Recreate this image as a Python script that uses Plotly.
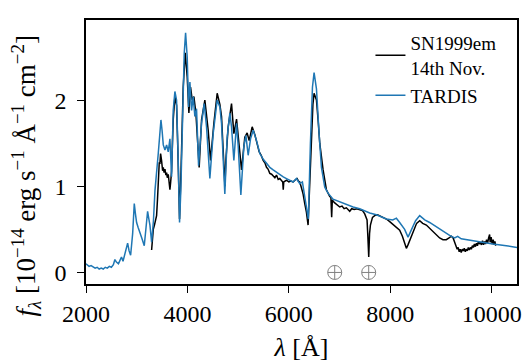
import plotly.graph_objects as go

# TARDIS model spectrum
tardis_wl = [2000, 2030, 2060, 2100, 2140, 2180, 2220, 2260, 2300, 2340, 2380, 2420, 2460, 2500,
             2540, 2570, 2600, 2640, 2670, 2700, 2730, 2768, 2800, 2821, 2850, 2880, 2920, 2952,
             2975, 2998, 3030, 3064, 3100, 3149, 3180, 3215, 3240, 3261, 3294, 3330, 3360, 3392,
             3425, 3455, 3478, 3500, 3524, 3557, 3590, 3622, 3655, 3688, 3720, 3753, 3786, 3819,
             3845, 3870, 3898, 3937, 3964, 3996, 4023, 4049, 4082, 4114, 4147, 4180, 4220, 4279,
             4331, 4377, 4443, 4508, 4587, 4640, 4673, 4738, 4784, 4837, 4870, 4916, 4969, 5001,
             5054, 5113, 5153, 5198, 5245, 5297, 5363, 5428, 5500, 5560, 5625, 5691, 5760, 5822,
             5890, 5954, 6019, 6085, 6150, 6216, 6268, 6314, 6350, 6385, 6426, 6466, 6498, 6545,
             6597, 6643, 6709, 6774, 6872, 7004, 7135, 7267, 7398, 7530, 7595, 7727, 7924, 8050,
             8121, 8186, 8284, 8351, 8420, 8500, 8581, 8680, 8777, 8974, 9171, 9270, 9330, 9400,
             9499, 9762, 10025, 10288, 10500]
tardis_flux = [0.10, 0.09, 0.07, 0.08, 0.06, 0.05, 0.06, 0.04, 0.05, 0.04, 0.06, 0.05, 0.07, 0.06,
               0.09, 0.15, 0.12, 0.10, 0.14, 0.18, 0.13, 0.22, 0.27, 0.34, 0.25, 0.20, 0.45, 0.80,
               0.68, 0.58, 0.52, 0.45, 0.40, 0.31, 0.50, 0.71, 0.62, 0.55, 0.35, 0.60, 0.95, 1.22,
               1.38, 1.60, 1.77, 1.65, 1.48, 1.42, 1.48, 1.40, 1.55, 1.11, 1.88, 2.10, 2.00, 1.30,
               0.58, 0.95, 1.77, 2.54, 2.78, 2.50, 1.92, 2.21, 1.88, 2.04, 1.81, 1.90, 1.24, 1.73,
               1.96, 1.69, 1.09, 1.61, 2.00, 1.92, 1.73, 0.91, 1.57, 1.85, 1.69, 1.30, 1.73, 1.47,
               0.90, 1.46, 1.59, 1.36, 1.55, 1.65, 1.53, 1.38, 1.31, 1.26, 1.22, 1.19, 1.16, 1.13,
               1.11, 1.09, 1.07, 1.05, 1.09, 1.03, 1.05, 0.87, 0.72, 0.62, 1.50, 2.15, 2.32, 2.13,
               1.61, 1.22, 0.99, 0.92, 0.85, 0.82, 0.79, 0.76, 0.74, 0.70, 0.69, 0.67, 0.62, 0.61,
               0.63, 0.58, 0.50, 0.41, 0.50, 0.60, 0.66, 0.61, 0.58, 0.50, 0.43, 0.40, 0.42, 0.39,
               0.38, 0.36, 0.33, 0.31, 0.29]

# Observed SN1999em spectrum (14th Nov.)
obs_wl = [3294, 3310, 3327, 3350, 3370, 3392, 3410, 3430, 3445, 3458, 3471, 3490, 3511, 3524,
          3540, 3557, 3575, 3590, 3603, 3622, 3640, 3655, 3670, 3688, 3705, 3720, 3753, 3786,
          3815, 3845, 3875, 3917, 3957, 3996, 4029, 4062, 4095, 4128, 4167, 4200, 4232, 4279,
          4344, 4410, 4456, 4522, 4587, 4640, 4673, 4740, 4758, 4804, 4870, 4916, 4969, 5021,
          5067, 5132, 5178, 5218, 5277, 5330, 5380, 5415, 5455, 5494, 5530, 5560, 5590, 5625,
          5660, 5691, 5725, 5757, 5790, 5822, 5855, 5880, 5890, 5900, 5954, 6000, 6040, 6085,
          6120, 6164, 6190, 6216, 6250, 6282, 6314, 6347, 6380, 6410, 6446, 6475, 6498, 6520,
          6545, 6580, 6610, 6676, 6741, 6807, 6830, 6845, 6858, 6872, 6900, 6950, 7004, 7050,
          7090, 7135, 7170, 7201, 7240, 7290, 7340, 7398, 7450, 7497, 7543, 7560, 7576, 7592,
          7609, 7650, 7693, 7750, 7792, 7850, 7924, 7990, 8055, 8120, 8186, 8240, 8290, 8318,
          8350, 8390, 8416, 8460, 8520, 8581, 8640, 8712, 8780, 8843, 8910, 8974, 9040, 9105,
          9160, 9204, 9240, 9269, 9300, 9320, 9340, 9360, 9380, 9400, 9420, 9440, 9460, 9480,
          9500, 9520, 9540, 9560, 9580, 9600, 9620, 9640, 9660, 9680, 9700, 9720, 9740, 9760,
          9780, 9800, 9820, 9840, 9860, 9880, 9900, 9920, 9940, 9960, 9970, 9990, 10010, 10030,
          10050, 10065, 10078]
obs_flux = [0.26, 0.40, 0.50, 0.55, 0.60, 0.66, 0.85, 1.15, 1.28, 1.26, 1.38, 1.30, 1.18, 1.22,
            1.16, 1.20, 1.13, 1.16, 1.10, 1.14, 1.05, 0.96, 1.05, 1.18, 1.50, 1.77, 2.04, 1.94,
            1.35, 0.62, 1.20, 2.15, 2.55, 2.27, 1.85, 2.15, 2.00, 2.04, 1.85, 1.45, 1.22, 1.77,
            2.00, 1.65, 1.30, 1.73, 2.08, 1.95, 1.81, 1.00, 1.30, 1.69, 1.96, 1.61, 1.78, 1.47,
            1.19, 1.57, 1.62, 1.53, 1.69, 1.60, 1.50, 1.40, 1.36, 1.30, 1.27, 1.22, 1.20, 1.15,
            1.14, 1.12, 1.10, 1.13, 1.08, 1.09, 1.07, 1.05, 0.96, 1.05, 1.07, 1.05, 1.06, 1.05,
            1.07, 1.09, 1.06, 1.05, 0.98, 0.91, 0.80, 0.70, 0.55, 1.00, 1.57, 1.95, 2.08, 2.05,
            2.00, 1.75, 1.50, 1.19, 0.96, 0.88, 0.87, 0.64, 0.84, 0.83, 0.81, 0.79, 0.76, 0.77,
            0.74, 0.75, 0.73, 0.71, 0.74, 0.73, 0.74, 0.73, 0.72, 0.68, 0.61, 0.40, 0.18, 0.45,
            0.55, 0.64, 0.66, 0.67, 0.66, 0.64, 0.62, 0.59, 0.56, 0.53, 0.49, 0.42, 0.31, 0.28,
            0.32, 0.38, 0.42, 0.50, 0.57, 0.60, 0.57, 0.55, 0.51, 0.48, 0.44, 0.40, 0.38, 0.38,
            0.40, 0.42, 0.40, 0.36, 0.31, 0.27, 0.29, 0.24, 0.27, 0.23, 0.27, 0.25, 0.28, 0.24,
            0.27, 0.25, 0.29, 0.26, 0.29, 0.27, 0.31, 0.29, 0.33, 0.30, 0.34, 0.31, 0.36, 0.33,
            0.35, 0.32, 0.37, 0.32, 0.36, 0.33, 0.38, 0.34, 0.40, 0.44, 0.35, 0.41, 0.33, 0.38,
            0.32, 0.36, 0.31]

# Telluric feature markers
telluric_wl = [6905, 7575]
telluric_y = [0.0, 0.0]

x_ticks = [2000, 4000, 6000, 8000, 10000]
y_ticks = [0, 1, 2]

FONT = "Liberation Serif, Times New Roman, serif"

fig = go.Figure()
fig.add_trace(go.Scatter(x=obs_wl, y=obs_flux, mode="lines",
                         line=dict(color="black", width=1.5),
                         name="SN1999em<br>14th Nov."))
fig.add_trace(go.Scatter(x=tardis_wl, y=tardis_flux, mode="lines",
                         line=dict(color="#1f77b4", width=1.5),
                         name="TARDIS"))
fig.add_trace(go.Scatter(x=telluric_wl, y=telluric_y, mode="markers",
                         marker=dict(symbol="circle-cross-open", size=14,
                                     color="#808080", line=dict(width=1, color="#808080")),
                         showlegend=False, hoverinfo="skip"))

axis_common = dict(showline=True, linecolor="black", linewidth=1.6, mirror=True,
                   ticks="outside", ticklen=7, tickwidth=1.4, tickcolor="black",
                   showgrid=False, zeroline=False, automargin=False,
                   tickfont=dict(family=FONT, size=24, color="black"))

fig.update_xaxes(range=[2000, 10500], tickvals=x_ticks,
                 ticktext=[str(v) for v in x_ticks],
                 title=dict(text="<i>λ</i> [Å]", font=dict(family=FONT, size=26, color="black"),
                            standoff=14),
                 **axis_common)
fig.update_yaxes(range=[-0.134, 2.93], tickvals=y_ticks,
                 ticktext=[str(v) for v in y_ticks], ticklabelstandoff=6,
                 **axis_common)

fig.add_annotation(text="<i>f</i><sub><i>λ</i></sub> [10<sup>−14</sup> erg s<sup>−1</sup> Å<sup>−1</sup> cm<sup>−2</sup>]",
                   xref="paper", yref="paper", x=-0.14, y=0.41, textangle=-90,
                   showarrow=False, xanchor="center", yanchor="middle",
                   font=dict(family=FONT, size=27, color="black"))

fig.update_layout(
    width=522, height=362,
    margin=dict(l=86, r=5, t=20, b=78),
    plot_bgcolor="white", paper_bgcolor="white",
    font=dict(family=FONT, color="black"),
    legend=dict(x=0.66, y=0.985, xanchor="left", yanchor="top",
                bgcolor="rgba(0,0,0,0)", borderwidth=0,
                font=dict(family=FONT, size=19, color="black"),
                tracegroupgap=0),
)

fig.write_html("out.html")
